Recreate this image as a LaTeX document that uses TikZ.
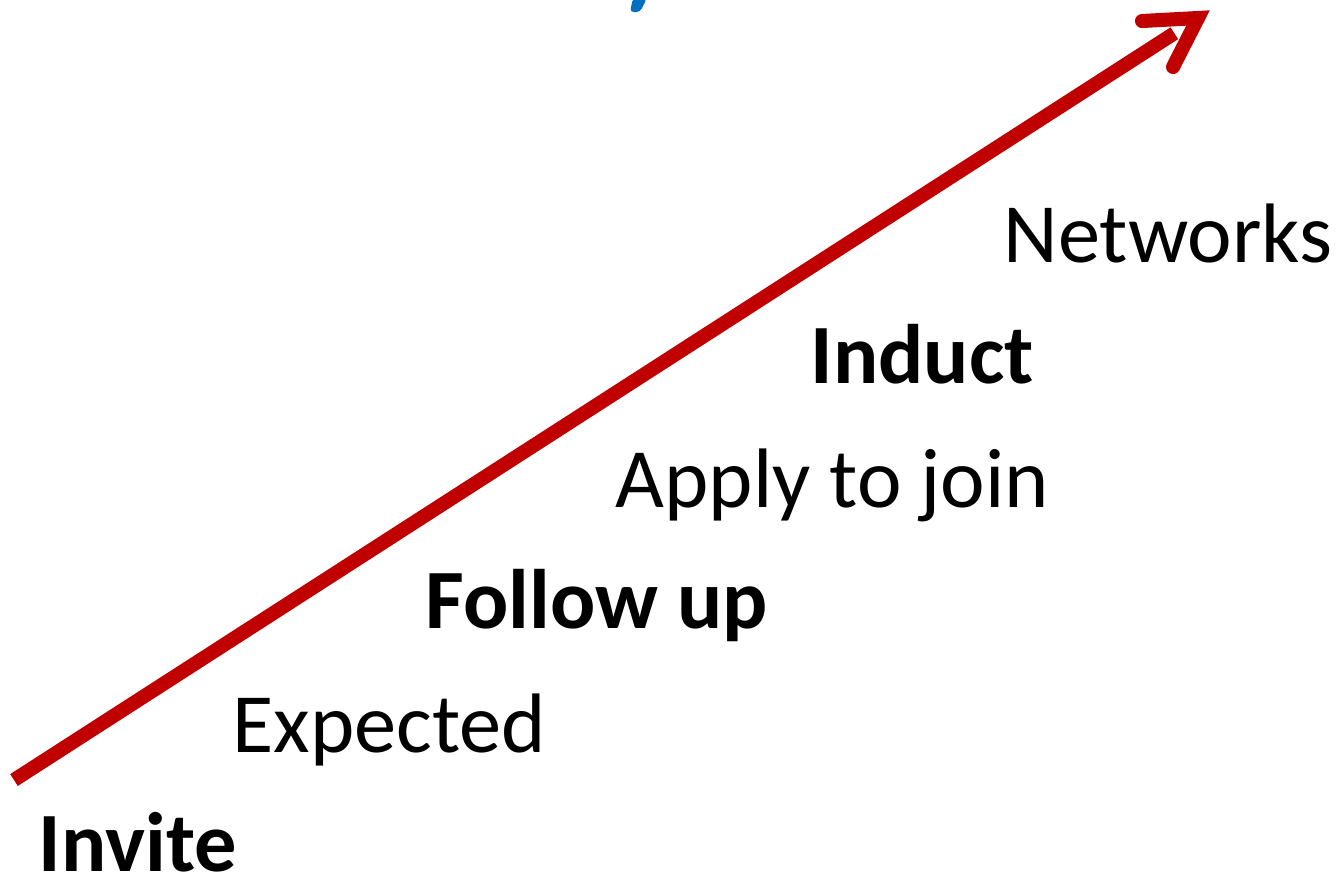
\documentclass[tikz,border=0pt]{standalone}
\usepackage{fontspec}
\setmainfont{Carlito}
\usetikzlibrary{positioning,calc}
\definecolor{arrowred}{HTML}{C00000}
\definecolor{markblue}{HTML}{0070C0}
\tikzset{%
	stage/.style    = {anchor=base west, inner sep=0pt, font=\fontsize{24}{28}\selectfont},
	keystage/.style = {stage, font=\fontsize{24}{28}\selectfont\bfseries},
	growth/.style   = {draw=arrowred, line width=4pt} % red arrow
}

\begin{document}
\begin{tikzpicture}[x=0.01cm,y=-0.01cm]
			\useasboundingbox (0,0) rectangle (1337,878);
			
			% cut-off mark at the top
			\fill[markblue,rounded corners=1pt] (633,-2) -- (647,-2) -- (640,12) -- (630,12) -- cycle;
			
			\coordinate (start) at (14,780);
			\coordinate (tip)   at (1198,18);
			\coordinate (barbl) at (1142,21);
			\coordinate (barbr) at (1173,67);
			\draw[growth,line cap=butt]   (start) -- ($(tip)!0.02!(start)$);
			\draw[growth,line cap=round,line join=miter]   (barbl) -- (tip) -- (barbr);
			
			\node[keystage,text depth=0pt]  (invite)   at (38,871)   {Invite};
			\node[stage]     (expected) at (232,752)  {Expected};
			\node[keystage]  (follow)   at (425,628)  {Follow up};
			\node[stage]     (apply)    at (615,507)  {Apply to join};
			\node[keystage]  (induct)   at (810,383)  {Induct};
			\node[stage]     (networks) at (1003,262) {Networks};
		\end{tikzpicture}
\end{document}
